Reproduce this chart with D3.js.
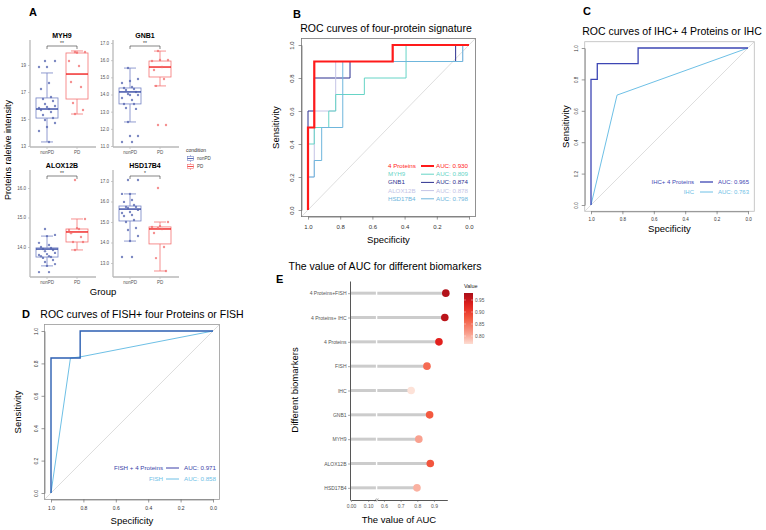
<!DOCTYPE html>
<html><head><meta charset="utf-8">
<script src="https://cdn.jsdelivr.net/npm/d3@7"></script>
<style>body{margin:0;background:#fff} svg{display:block} text{font-family:"Liberation Sans",Arial,Helvetica,sans-serif}</style>
</head><body><svg id="c" width="766" height="530"></svg>
<script>
// ---------------- DATA ----------------
// Panel A: box plots
const boxGenes = ["MYH9","GNB1","ALOX12B","HSD17B4"];
const boxGroups = ["nonPD","PD"];
const sigLabels = ["**","**","**","*"];
const yTicksA = [[13,15,17,19],[11,12,13,14,15,16,17],[14,15,16],[13,14,15,16,17]];
// [lower whisker, Q1, median, Q3, upper whisker]
const statsNonPD = [[13.30,15.07,15.74,16.56,18.41],[12.40,13.45,14.15,14.38,15.54],[13.36,13.66,13.93,13.97,14.37],[14.07,15.05,15.63,15.78,16.37]];
const statsPD = [[15.37,16.48,18.33,19.89,20.04],[14.50,15.02,15.60,15.95,16.53],[13.90,14.17,14.51,14.61,14.95],[12.61,13.93,14.66,14.76,15.00]];
const pointsNonPD = [
  [19.30,19.30,18.85,18.85,17.67,17.22,16.63,16.48,16.33,16.11,15.96,15.89,15.81,15.74,15.67,15.52,15.30,15.07,14.93,14.70,14.41,14.11,13.30],
  [15.54,14.90,14.79,14.67,14.44,14.38,14.32,14.26,14.15,14.03,13.97,13.97,13.80,13.68,13.45,13.45,13.21,13.16,12.40,11.58,11.58,11.23,11.23],
  [14.61,14.41,14.37,14.14,14.07,14.00,13.97,13.93,13.90,13.86,13.80,13.76,13.73,13.69,13.69,13.66,13.63,13.56,13.49,13.42,13.36,13.15,13.15],
  [17.05,17.05,16.37,16.37,16.07,15.98,15.83,15.73,15.73,15.68,15.59,15.49,15.44,15.34,15.29,15.10,15.00,14.71,14.61,14.32,14.07,13.29,13.29]
];
const pointsPD = [
  [19.96,19.96,19.90,19.30,18.93,17.74,17.37,16.19,15.67,15.37],
  [16.53,16.01,16.01,15.95,15.60,15.43,14.90,14.50,12.22,12.22],
  [16.27,14.95,14.64,14.58,14.61,14.47,14.34,14.17,14.17,13.90],
  [16.66,15.00,14.80,14.76,14.66,14.46,13.78,13.24,12.61,14.71]
];

// Panel B: ROC of four-protein signature  [specificity, sensitivity]
const rocLabelsB = ["4 Proteins","MYH9","GNB1","ALOX12B","HSD17B4"];
const rocAucB = ["AUC: 0.930","AUC: 0.809","AUC: 0.874","AUC: 0.878","AUC: 0.798"];
const rocB_4P = [[1,0],[1,0.5],[0.961,0.5],[0.961,0.9],[0.474,0.9],[0.474,1],[0,1]];
const rocB_MYH9 = [[1,0],[1,0.4],[0.961,0.4],[0.961,0.5],[0.871,0.5],[0.871,0.6],[0.828,0.6],[0.828,0.7],[0.65,0.7],[0.65,0.8],[0.391,0.8],[0.391,1],[0,1]];
const rocB_GNB1 = [[1,0],[1,0.6],[0.961,0.6],[0.961,0.8],[0.739,0.8],[0.739,0.9],[0.083,0.9],[0.083,1],[0,1]];
const rocB_ALOX12B = [[1,0],[1,0.2],[0.961,0.2],[0.961,0.6],[0.828,0.6],[0.828,0.9],[0.039,0.9],[0.039,1],[0,1]];
const rocB_HSD17B4 = [[1,0],[1,0.2],[0.961,0.2],[0.961,0.3],[0.915,0.3],[0.915,0.5],[0.784,0.5],[0.784,0.9],[0.039,0.9],[0.039,1],[0,1]];

// Panel C
const rocLabelsC = ["IHC+ 4 Proteins","IHC"];
const rocAucC = ["AUC: 0.965","AUC: 0.763"];
const rocC_combo = [[1,0],[1,0.8],[0.96,0.8],[0.96,0.9],[0.70,0.9],[0.70,1],[0,1]];
const rocC_IHC = [[1,0],[0.834,0.7],[0,1]];

// Panel D
const rocLabelsD = ["FISH + 4 Proteins","FISH"];
const rocAucD = ["AUC: 0.971","AUC: 0.858"];
const rocD_combo = [[1,0],[1,0.833],[0.82,0.833],[0.82,1],[0,1]];
const rocD_FISH = [[1,0],[0.88,0.833],[0.82,0.84],[0,1]];

const rocTicks = [1.0,0.8,0.6,0.4,0.2,0.0];

// Panel E
const aucCategories = ["4 Proteins+FISH","4 Proteins+ IHC","4 Proteins","FISH","IHC","GNB1","MYH9","ALOX12B","HSD17B4"];
const aucValues = [0.971,0.965,0.930,0.858,0.763,0.874,0.809,0.878,0.798];
const aucTicksLow = [0.00,0.10];
const aucTicksHigh = [0.6,0.7,0.8,0.9];
const legendTicksE = [0.95,0.90,0.85,0.80];

// ---------------- DRAW ----------------
const svg = d3.select("#c");
const FONT = '"Liberation Sans",Arial,Helvetica,sans-serif';

function txt(g, x, y, s, o) {
  o = o || {};
  const t = g.append("text").attr("x", x).attr("y", y).text(s)
    .attr("font-size", o.size || 10).attr("fill", o.fill || "#000")
    .attr("text-anchor", o.anchor || "start");
  if (o.bold) t.attr("font-weight", "bold");
  if (o.rot) t.attr("transform", `rotate(${o.rot},${x},${y})`);
  return t;
}

// ===== Panel A =====
const gA = svg.append("g");
txt(gA, 29, 16, "A", {size: 11, bold: true});
const facetLayout = [
  {x0:30, x1:96, top:40, bot:147, ta:[13,19], pa:[146,65]},
  {x0:113, x1:179, top:40, bot:147, ta:[11,17], pa:[146,43]},
  {x0:30, x1:96, top:170, bot:277, ta:[14,16], pa:[247,188]},
  {x0:113, x1:179, top:170, bot:277, ta:[13,17], pa:[263,181]}
];
const colA = {nonPD: {stroke:"#7382c4", med:"#3347a3", pt:"#4f5fae"}, PD: {stroke:"#f47474", med:"#f0201f", pt:"#f26a6a"}};

boxGenes.forEach((gene, gi) => {
  const L = facetLayout[gi];
  const y0 = d3.scaleLinear().domain(L.ta).range(L.pa);
  const y = d3.scaleLinear().domain([y0.invert(L.bot), y0.invert(L.top)]).range([L.bot, L.top]);
  const x = d3.scaleBand().domain(boxGroups).range([L.x0 + 2, L.x0 + 62]);
  const g = gA.append("g");
  txt(g, (x("nonPD") + x("PD") + x.bandwidth()) / 2, L.top - 2, gene, {size: 7, bold: true, anchor: "middle"});
  const ya = g.append("g").attr("transform", `translate(${L.x0},0)`)
    .call(d3.axisLeft(y).tickValues(yTicksA[gi]).tickSize(2).tickPadding(2).tickSizeOuter(0));
  const xa = g.append("g").attr("transform", `translate(0,${L.bot})`)
    .call(d3.axisBottom(x).tickSize(2).tickPadding(1.5).tickSizeOuter(0));
  ya.select(".domain").remove();
  xa.select(".domain").remove();
  g.append("line").attr("x1", L.x0).attr("x2", L.x0).attr("y1", L.top).attr("y2", L.bot).attr("stroke", "#b8b8b8").attr("stroke-width", 1.3);
  g.append("line").attr("x1", L.x0).attr("x2", L.x1).attr("y1", L.bot).attr("y2", L.bot).attr("stroke", "#b8b8b8").attr("stroke-width", 1.3);
  [ya, xa].forEach(a => {
    a.selectAll("text").attr("font-size", 4.5).attr("fill", "#555").attr("font-family", FONT);
    a.selectAll(".tick line").attr("stroke", "#999").attr("stroke-width", 0.5);
  });
  boxGroups.forEach((grp, k) => {
    const st = (k === 0 ? statsNonPD : statsPD)[gi];
    const pts = (k === 0 ? pointsNonPD : pointsPD)[gi];
    const c = colA[grp];
    const cx = x(grp) + x.bandwidth() / 2;
    const bw = 22;
    const bg = g.append("g");
    bg.append("line").attr("x1", cx).attr("x2", cx).attr("y1", y(st[0])).attr("y2", y(st[1])).attr("stroke", c.stroke).attr("stroke-width", 0.8);
    bg.append("line").attr("x1", cx).attr("x2", cx).attr("y1", y(st[3])).attr("y2", y(st[4])).attr("stroke", c.stroke).attr("stroke-width", 0.8);
    [st[0], st[4]].forEach(v => bg.append("line").attr("x1", cx - 6).attr("x2", cx + 6).attr("y1", y(v)).attr("y2", y(v)).attr("stroke", c.stroke).attr("stroke-width", 0.8));
    bg.append("rect").attr("x", cx - bw / 2).attr("width", bw).attr("y", y(st[3])).attr("height", y(st[1]) - y(st[3]))
      .attr("fill", "none").attr("stroke", c.stroke).attr("stroke-width", 0.8);
    bg.append("line").attr("x1", cx - bw / 2).attr("x2", cx + bw / 2).attr("y1", y(st[2])).attr("y2", y(st[2])).attr("stroke", c.med).attr("stroke-width", 1.4);
    bg.selectAll("circle").data(pts).join("circle")
      .attr("cx", (d, i) => cx + (((i * 5 + 3) % 9) - 4) / 4 * 8)
      .attr("cy", d => y(d)).attr("r", 1.2)
      .attr("fill", c.pt).attr("fill-opacity", 0.75);
  });
  const bx1 = x("nonPD") + x.bandwidth() / 2, bx2 = x("PD") + x.bandwidth() / 2, by = L.top + 6;
  g.append("path").attr("d", `M${bx1},${by + 3}V${by}H${bx2}V${by + 3}`).attr("fill", "none").attr("stroke", "#333").attr("stroke-width", 0.6);
  txt(g, (bx1 + bx2) / 2, by - 1, sigLabels[gi], {size: 5, anchor: "middle", fill: "#333"});
});
txt(gA, 11, 150, "Proteins raletive intensity", {size: 9, anchor: "middle", rot: -90});
txt(gA, 103, 295, "Group", {size: 9.5, anchor: "middle"});
txt(gA, 186, 152, "condition", {size: 5, fill: "#333"});
boxGroups.forEach((grp, k) => {
  const c = colA[grp], ly = 156 + k * 8;
  gA.append("line").attr("x1", 190.5).attr("x2", 190.5).attr("y1", ly - 1).attr("y2", ly + 6).attr("stroke", c.stroke).attr("stroke-width", 0.6);
  gA.append("rect").attr("x", 187.5).attr("y", ly + 0.5).attr("width", 6).attr("height", 4).attr("fill", "#fff").attr("stroke", c.stroke).attr("stroke-width", 0.6);
  gA.append("line").attr("x1", 187.5).attr("x2", 193.5).attr("y1", ly + 2.5).attr("y2", ly + 2.5).attr("stroke", c.med).attr("stroke-width", 0.8);
  txt(gA, 197, ly + 4, grp, {size: 4.5, fill: "#444"});
});

// ===== ROC panels =====
function rocPanel(cfg) {
  const g = svg.append("g");
  const x = d3.scaleLinear().domain([1, 0]).range([cfg.xa, cfg.xb]);
  const y = d3.scaleLinear().domain([0, 1]).range([cfg.ya, cfg.yb]);
  const L = x(1.04), R = x(-0.04), B = y(-0.04), T = y(1.04);
  const cid = "clip" + cfg.id;
  g.append("clipPath").attr("id", cid).append("rect").attr("x", L).attr("y", T).attr("width", R - L).attr("height", B - T);
  g.append("line").attr("x1", x(1.04)).attr("y1", y(-0.04)).attr("x2", x(-0.04)).attr("y2", y(1.04))
    .attr("stroke", "#c8c8c8").attr("stroke-width", 0.6).attr("clip-path", `url(#${cid})`);
  g.append("rect").attr("x", L).attr("y", T).attr("width", R - L).attr("height", B - T).attr("fill", "none").attr("stroke", cfg.boxColor).attr("stroke-width", 0.8);
  const xa = g.append("g").attr("transform", `translate(0,${B})`)
    .call(d3.axisBottom(x).tickValues(rocTicks).tickFormat(d3.format(".1f")).tickSize(3).tickPadding(cfg.tickPad).tickSizeOuter(0));
  const ya = g.append("g").attr("transform", `translate(${L},0)`)
    .call(d3.axisLeft(y).tickValues(rocTicks).tickFormat(d3.format(".1f")).tickSize(3).tickSizeOuter(0));
  ya.selectAll(".tick text").attr("x", 0).attr("y", -(3 + cfg.tickPad)).attr("dy", 0)
    .attr("transform", "rotate(-90)").attr("text-anchor", "middle");
  [xa, ya].forEach(a => {
    a.selectAll("text").attr("font-size", cfg.tickSize).attr("fill", "#333").attr("font-family", FONT);
    a.selectAll("line,path").attr("stroke", "#555").attr("stroke-width", 0.6);
  });
  const line = d3.line().x(d => x(d[0])).y(d => y(d[1]));
  cfg.curves.forEach(c => {
    g.append("path").attr("d", line(c.data)).attr("fill", "none").attr("stroke", c.color).attr("stroke-width", c.w);
  });
  txt(g, cfg.labelLetter[0], cfg.labelLetter[1], cfg.letter, {size: 11, bold: true});
  txt(g, cfg.titlePos[0], cfg.titlePos[1], cfg.title, {size: 10.5, anchor: cfg.titleAnchor || "middle"});
  txt(g, (L + R) / 2, cfg.xlabY, "Specificity", {size: 9.5, anchor: "middle"});
  txt(g, cfg.ylabX, (T + B) / 2, "Sensitivity", {size: 9.5, anchor: "middle", rot: -90});
  cfg.legend.rows.forEach((r, i) => {
    const ly = cfg.legend.y + i * cfg.legend.dy;
    txt(g, cfg.legend.tx, ly, r.label, {size: cfg.legend.size, anchor: cfg.legend.anchor, fill: r.tcol || r.color});
    g.append("line").attr("x1", cfg.legend.lx1).attr("x2", cfg.legend.lx2).attr("y1", ly - 2).attr("y2", ly - 2).attr("stroke", r.color).attr("stroke-width", r.w);
    txt(g, cfg.legend.ax, ly, r.auc, {size: cfg.legend.size, fill: r.tcol || r.color});
  });
}

const colB = {p4: "#ff1a1a", myh9: "#66d4c6", gnb1: "#2b2f8f", alox: "#c4c4e6", hsd: "#6fb6dc"};
rocPanel({
  id: "B", xa: 308, xb: 469, ya: 210, yb: 45, boxColor: "#777", tickPad: 5, tickSize: 6,
  curves: [
    {data: rocB_GNB1, color: colB.gnb1, w: 1},
    {data: rocB_ALOX12B, color: colB.alox, w: 1},
    {data: rocB_MYH9, color: colB.myh9, w: 1},
    {data: rocB_HSD17B4, color: colB.hsd, w: 1},
    {data: rocB_4P, color: colB.p4, w: 2.2}
  ],
  letter: "B", labelLetter: [293, 18], title: "ROC curves of four-protein signature", titlePos: [386, 32],
  xlabY: 243, ylabX: 279,
  legend: {y: 168, dy: 8.2, tx: 388, anchor: "start", lx1: 421, lx2: 434, ax: 436, size: 6.2,
    rows: [
      {label: rocLabelsB[0], auc: rocAucB[0], color: colB.p4, w: 2},
      {label: rocLabelsB[1], auc: rocAucB[1], color: colB.myh9, w: 1},
      {label: rocLabelsB[2], auc: rocAucB[2], color: colB.gnb1, w: 1},
      {label: rocLabelsB[3], auc: rocAucB[3], color: colB.alox, w: 1},
      {label: rocLabelsB[4], auc: rocAucB[4], color: colB.hsd, w: 1}
    ]}
});

rocPanel({
  id: "C", xa: 591, xb: 748, ya: 205, yb: 48, boxColor: "#bbb", tickPad: 4, tickSize: 4.5,
  curves: [
    {data: rocC_IHC, color: "#6ec0e6", w: 1},
    {data: rocC_combo, color: "#3d46b4", w: 1.3}
  ],
  letter: "C", labelLetter: [583, 15], title: "ROC curves of IHC+ 4 Proteins or IHC", titlePos: [672, 35],
  xlabY: 232, ylabX: 569,
  legend: {y: 184, dy: 10, tx: 694, anchor: "end", lx1: 700, lx2: 713, ax: 718, size: 6,
    rows: [
      {label: rocLabelsC[0], auc: rocAucC[0], color: "#3d46b4", w: 1.3},
      {label: rocLabelsC[1], auc: rocAucC[1], color: "#6ec0e6", w: 1}
    ]}
});

rocPanel({
  id: "D", xa: 51, xb: 213, ya: 493, yb: 331, boxColor: "#999", tickPad: 4, tickSize: 5,
  curves: [
    {data: rocD_FISH, color: "#6ec0e6", w: 1},
    {data: rocD_combo, color: "#2c5fb2", w: 1.4}
  ],
  letter: "D", labelLetter: [22, 318], title: "ROC curves of FISH+ four Proteins or FISH", titlePos: [142, 318],
  xlabY: 524, ylabX: 21,
  legend: {y: 470, dy: 11, tx: 163, anchor: "end", lx1: 166, lx2: 179, ax: 184, size: 6.2,
    rows: [
      {label: rocLabelsD[0], auc: rocAucD[0], color: "#3a3fa8", w: 1, tcol: "#3a3fa8"},
      {label: rocLabelsD[1], auc: rocAucD[1], color: "#6ec0e6", w: 1}
    ]}
});

// ===== Panel E =====
const gE = svg.append("g");
txt(gE, 385, 270, "The value of AUC for different biomarkers", {size: 10.5, anchor: "middle"});
txt(gE, 276, 283, "E", {size: 11, bold: true});
const xl = d3.scaleLinear().domain([0, 0.145]).range([351, 375.9]);
const xu = d3.scaleLinear().domain([0.56, 0.98]).range([377.3, 447.3]);
const yE = d3.scalePoint().domain(aucCategories).range([281, 500]).padding(0.5);
const colorE = d3.scaleLinear().domain([0.763, 0.81, 0.874, 0.93, 0.971])
  .range(["#fde2d8", "#f9a08e", "#f3593f", "#e2201d", "#b3121a"]);
aucCategories.forEach((c, i) => {
  const yy = yE(c), v = aucValues[i];
  gE.append("line").attr("x1", xl(0)).attr("x2", xl(0.145)).attr("y1", yy).attr("y2", yy).attr("stroke", "#cccccc").attr("stroke-width", 3);
  gE.append("line").attr("x1", xu(0.56)).attr("x2", xu(v)).attr("y1", yy).attr("y2", yy).attr("stroke", "#cccccc").attr("stroke-width", 3);
});
gE.selectAll("circle.pt").data(aucValues).join("circle").attr("class", "pt")
  .attr("cx", d => xu(d)).attr("cy", (d, i) => yE(aucCategories[i])).attr("r", 3.8).attr("fill", d => colorE(d));
const yaE = gE.append("g").attr("transform", "translate(350,0)").call(d3.axisLeft(yE).tickSize(2).tickPadding(1.5).tickSizeOuter(0));
const xaE1 = gE.append("g").attr("transform", "translate(0,500)").call(d3.axisBottom(xl).tickValues(aucTicksLow).tickFormat(d3.format(".2f")).tickSize(2).tickPadding(2).tickSizeOuter(0));
const xaE2 = gE.append("g").attr("transform", "translate(0,500)").call(d3.axisBottom(xu).tickValues(aucTicksHigh).tickFormat(d3.format(".1f")).tickSize(2).tickPadding(2).tickSizeOuter(0));
[yaE, xaE1, xaE2].forEach(a => {
  a.selectAll("text").attr("font-size", 5).attr("fill", "#555").attr("font-family", FONT);
  a.selectAll(".tick line").attr("stroke", "#555").attr("stroke-width", 0.5);
  a.select(".domain").attr("stroke", "#444").attr("stroke-width", 0.9);
});
[375.6, 377.4].forEach(bx => gE.append("line").attr("x1", bx - 0.8).attr("x2", bx + 0.8).attr("y1", 501.5).attr("y2", 498.5).attr("stroke", "#444").attr("stroke-width", 0.5));
txt(gE, 399, 523, "The value of AUC", {size: 9.5, anchor: "middle"});
txt(gE, 298, 390, "Different biomarkers", {size: 9.5, anchor: "middle", rot: -90});
const grad = svg.append("defs").append("linearGradient").attr("id", "gradE").attr("x1", 0).attr("x2", 0).attr("y1", 1).attr("y2", 0);
const ly = d3.scaleLinear().domain([0.80, 0.95]).range([336, 300]);
const vmin = ly.invert(344), vmax = ly.invert(293);
d3.range(0, 11).forEach(k => {
  const v = vmin + (vmax - vmin) * k / 10;
  grad.append("stop").attr("offset", k / 10).attr("stop-color", colorE(v));
});
txt(gE, 464, 288, "Value", {size: 5.5, fill: "#222"});
gE.append("rect").attr("x", 464).attr("y", 293).attr("width", 9).attr("height", 51).attr("fill", "url(#gradE)");
legendTicksE.forEach(t => {
  gE.append("line").attr("x1", 464).attr("x2", 466).attr("y1", ly(t)).attr("y2", ly(t)).attr("stroke", "#fff").attr("stroke-width", 0.4);
  gE.append("line").attr("x1", 471).attr("x2", 473).attr("y1", ly(t)).attr("y2", ly(t)).attr("stroke", "#fff").attr("stroke-width", 0.4);
  txt(gE, 475, ly(t) + 1.7, d3.format(".2f")(t), {size: 4.8, fill: "#555"});
});
</script></body></html>
